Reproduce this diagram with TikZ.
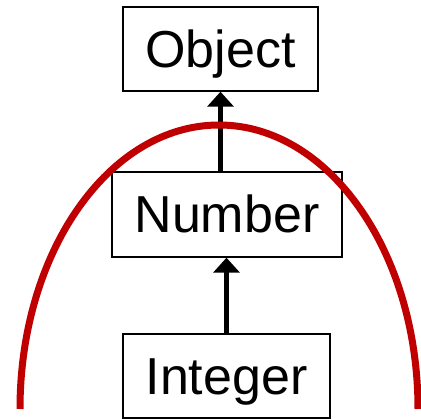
\documentclass[tikz,border=0pt]{standalone}
\usepackage{fontspec}
\setmainfont{Liberation Sans}
\usetikzlibrary{arrows.meta}
\definecolor{arcred}{HTML}{C00000}
\begin{document}
\begin{tikzpicture}[x=1pt,y=-1pt,
  box/.style={draw, line width=1.4pt, inner sep=0pt, text height=37pt, text depth=0pt,
    font=\fontsize{52}{52}\selectfont},
  arr/.style={line width=4.5pt, -{Triangle[width=26pt,length=15pt]}},
  redarc/.style={draw=arcred, line width=7pt}]
\useasboundingbox (0,0) rectangle (421,419);
\node[box, minimum width=195pt, minimum height=84pt] (obj) at (220.5,49) {Object};
\node[box, minimum width=230pt, minimum height=85pt] (num) at (227,214.5) {Number};
\node[box, minimum width=207pt, minimum height=84pt] (int) at (226.5,376) {Integer};
\draw[arr] (obj.south |- num.north) -- (obj.south);
\draw[arr] (int.north) -- (int.north |- num.south);
\coordinate (arcstart) at (20,409);
\draw[redarc] (arcstart) arc[start angle=180, end angle=0, x radius=199pt, y radius=284pt];
\end{tikzpicture}
\end{document}
